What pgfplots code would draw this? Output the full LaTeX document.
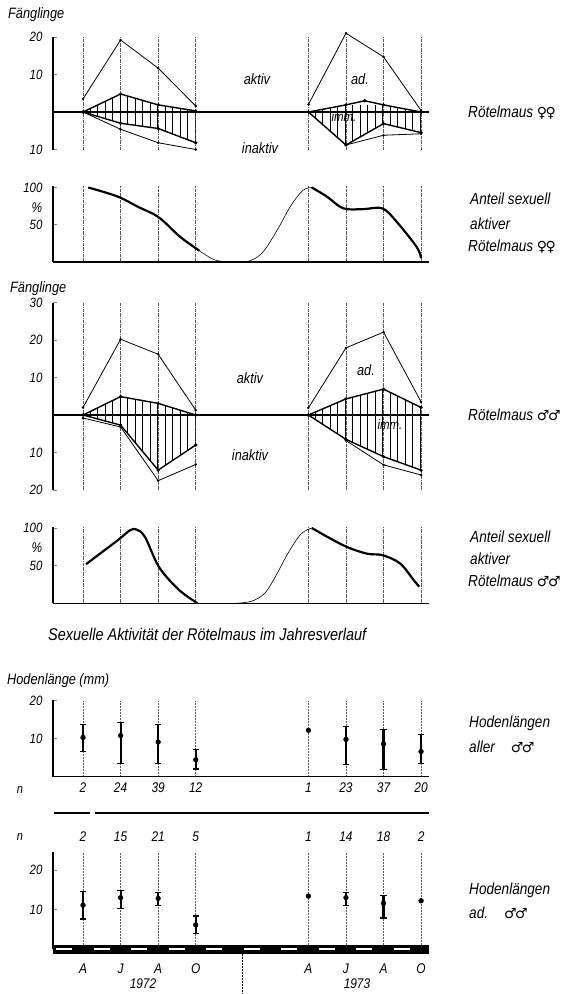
\documentclass[border=0pt]{standalone}
\usepackage{pgfplots}
\pgfplotsset{compat=1.18}
\usepackage{fontspec}
\setmainfont{Liberation Sans}[FakeStretch=0.85]
\newfontfamily\sym{DejaVu Sans}
\usetikzlibrary{patterns.meta}

% italic text at a given size (1pt = 1 pixel of the reference)
\newcommand{\fs}[1]{\fontsize{#1}{#1}\selectfont\itshape}
\newcommand{\fem}{{\sym\fontsize{14}{14}\selectfont ♀\kern-1.5pt♀}}
\newcommand{\mal}{{\sym\fontsize{14}{14}\selectfont ♂\kern-1.5pt♂}}

\pgfplotsset{
  panel/.style={
    scale only axis, width=375.6pt,
    xmin=2.4, xmax=22.4,
    xtick={4,6,8,10,16,18,20,22}, xticklabels={},
    xmajorgrids, major x grid style={densely dashdotted, black!65, line width=0.5pt},
    xtick style={draw=none},
    tick align=inside, major tick length=4pt,
    ytick style={line width=0.8pt},
    axis line style={line width=1.2pt},
    yticklabel style={font=\fs{13.5}, xshift=-7pt},
    xticklabel style={font=\fs{14}},
    anchor=south west, clip=false,
  },
  thinline/.style={black, line width=0.8pt, mark=*, mark size=0.8pt},
  hatchline/.style={black, line width=1.4pt, mark=*, mark size=0.8pt},
  hatch/.style={draw=none, pattern={Lines[angle=90,distance=7.5pt,line width=0.6pt]}},
  curve/.style={black, line width=2.2pt, smooth, tension=0.55},
  bridge/.style={black, line width=0.6pt, smooth, tension=0.55},
  hoden/.style={only marks, mark=*, mark size=2.4pt, black,
    error bars/.cd, y dir=both, y explicit,
    error bar style={line width=2.2pt},
    error mark options={rotate=90, mark size=3.2pt, line width=1.4pt}},
}
\tikzset{nrow/.style={font=\fs{14}, inner sep=0pt}}

\begin{document}
\begin{tikzpicture}
\useasboundingbox (0,0) rectangle (565pt,-994pt);

% ---------- Fänglinge, females ----------
\begin{axis}[panel, at={(53pt,-149.5pt)}, height=112.5pt, ymin=-10, ymax=20,
  axis y line*=left, axis x line*=middle, x axis line style={line width=1.8pt},
  ytick={-10,10,20}, yticklabels={10,10,20}]
\addplot[hatch] coordinates {(4,0)(6,4.8)(8,1.9)(10,0.3)(10,-8.2)(8,-4.4)(6,-3.0)(4,0)};
\addplot[hatch] coordinates {(16,0)(18,1.9)(20,1.9)(22,0)(22,-5.5)(20,-3.1)(18,-8.8)(16,0)};
\addplot[thinline] coordinates {(4,3.5)(6,19.2)(8,11.7)(10,1.6)};
\addplot[hatchline] coordinates {(4,0)(6,4.8)(8,1.9)(10,0.3)};
\addplot[hatchline] coordinates {(4,0)(6,-3.0)(8,-4.4)(10,-8.2)};
\addplot[thinline] coordinates {(4,0)(6,-4.6)(8,-8.2)(10,-10)};
\addplot[thinline] coordinates {(16,2)(18,21)(20,14.7)(22,0.4)};
\addplot[hatchline] coordinates {(16,0)(18,1.9)(19,3)(20,1.9)(22,0)};
\addplot[hatchline] coordinates {(16,0)(18,-8.8)(20,-3.1)(22,-5.5)};
\addplot[thinline] coordinates {(18,-8.8)(20,-6.2)(22,-5.8)};
\end{axis}

% ---------- share of sexually active females ----------
\begin{axis}[panel, at={(53pt,-262pt)}, height=76pt, ymin=0, ymax=102,
  axis lines*=left, ytick={50,100}, yticklabels={50,100}]
\addplot[curve] coordinates {(4.28,100)(5.83,88)(6.93,74)(8.03,60)(9.16,34)(10.2,15)};
\addplot[bridge] coordinates {(10.2,15)(10.9,4)(11.47,0.5)(12.1,0)(12.72,0.5)(13.3,7)(13.78,20)(14.5,50)(15.05,75)(15.7,96)(16.18,100)};
\addplot[curve] coordinates {(16.18,100)(16.97,88)(17.86,72)(18.93,71)(19.94,72)(20.7,54)(21.77,20)(22,5)};
\end{axis}

% ---------- Fänglinge, males ----------
\begin{axis}[panel, at={(53pt,-490pt)}, height=187.5pt, ymin=-20, ymax=30,
  axis y line*=left, axis x line*=middle, x axis line style={line width=1.8pt},
  ytick={-20,-10,10,20,30}, yticklabels={20,10,10,20,30}]
\addplot[hatch] coordinates {(4,0)(6,4.9)(8,3.1)(10,0)(10,-8)(8,-14.7)(6,-2.7)(4,0)};
\addplot[hatch] coordinates {(16,0)(18,4.3)(20,6.9)(22,2)(22,-14.7)(20,-11.1)(18,-6.5)(16,0)};
\addplot[thinline] coordinates {(4,2)(6,20.2)(8,16.2)(10,1.3)};
\addplot[hatchline] coordinates {(4,0)(6,4.9)(8,3.1)(10,0)};
\addplot[hatchline] coordinates {(4,0)(6,-2.7)(8,-14.7)(10,-8)};
\addplot[thinline] coordinates {(4,-0.8)(6,-3.2)(8,-17.5)(10,-13.2)};
\addplot[thinline] coordinates {(16,1.9)(18,17.9)(20,22.1)(22,3.5)};
\addplot[hatchline] coordinates {(16,0)(18,4.3)(20,6.9)(22,2)};
\addplot[hatchline] coordinates {(16,0)(18,-6.5)(20,-11.1)(22,-14.7)};
\addplot[thinline] coordinates {(18,-6.8)(20,-13.3)(22,-16)};
\end{axis}

% ---------- share of sexually active males ----------
\begin{axis}[panel, at={(53pt,-603.3pt)}, height=76.8pt, ymin=0, ymax=102,
  axis lines*=left, ytick={50,100}, yticklabels={50,100}]
\addplot[curve] coordinates {(4.16,52)(5.86,84)(6.5,97)(6.85,98)(7.3,88)(8.05,48)(9.1,18)(10.1,0)};
\addplot[bridge] coordinates {(10.1,0)(11,0)(12.1,0)(13,3)(13.7,14)(14.3,38)(14.9,66)(15.6,92)(16.18,100)};
\addplot[curve] coordinates {(16.18,100)(17.86,77)(19.1,66)(19.94,64)(20.88,53)(21.6,31)(21.9,22)};
\end{axis}

% ---------- testis length, all males ----------
\begin{axis}[panel, at={(53pt,-776.5pt)}, height=76.5pt, ymin=0, ymax=20.2,
  axis lines*=left, x axis line style={line width=1.8pt},
  major x grid style={densely dotted, black!65, line width=0.5pt},
  ytick={10,20}, yticklabels={10,20},
  xticklabels={2,24,39,12,1,23,37,20}, xticklabel style={yshift=-3pt}]
\addplot[hoden] coordinates {(4,10.3) += (0,3.4) -= (0,3.7) (6,10.8) += (0,3.4) -= (0,7.4)
  (8,9.1) += (0,4.6) -= (0,5.7) (10,4.4) += (0,2.7) -= (0,2.4)
  (18,9.8) += (0,3.4) -= (0,6.7) (20,8.6) += (0,3.8) -= (0,6.7) (22,6.6) += (0,4.5) -= (0,3.1)};
\addplot[only marks, mark=*, mark size=2.4pt, black] coordinates {(16,12.2)};
\end{axis}

% ---------- testis length, adult males ----------
\begin{axis}[panel, at={(53pt,-949pt)}, height=96.8pt, ymin=0, ymax=24.5,
  axis lines*=left,
  x axis line style={line width=9pt, postaction={draw=white, line width=2.8pt,
    dash pattern=on 16pt off 21.5pt, dash phase=34.5pt}},
  major x grid style={densely dotted, black!65, line width=0.5pt},
  ytick={10,20}, yticklabels={10,20},
  xticklabels={A,J,A,O,A,J,A,O}, xticklabel style={yshift=-11pt}]
\addplot[hoden] coordinates {(4,11.1) += (0,3.4) -= (0,3.5) (6,13) += (0,1.8) -= (0,2.7)
  (8,12.8) += (0,1.5) -= (0,1.8) (10,6.1) += (0,2.3) -= (0,2.1)
  (18,13) += (0,1.3) -= (0,2) (20,11.6) += (0,1.9) -= (0,3.8)};
\addplot[only marks, mark=*, mark size=2.4pt, black] coordinates {(16,13.4)(22,12.2)};
% separator and second row of sample sizes
\draw[line width=1.2pt] (axis cs:2.45,34.4) -- (axis cs:4.37,34.4);
\draw[line width=1.2pt] (axis cs:4.62,34.4) -- (axis cs:22.4,34.4);
\node[nrow] at (axis cs:4,28.4) {2};
\node[nrow] at (axis cs:6,28.4) {15};
\node[nrow] at (axis cs:8,28.4) {21};
\node[nrow] at (axis cs:10,28.4) {5};
\node[nrow] at (axis cs:16,28.4) {1};
\node[nrow] at (axis cs:18,28.4) {14};
\node[nrow] at (axis cs:20,28.4) {18};
\node[nrow] at (axis cs:22,28.4) {2};
\draw[densely dotted, line width=0.5pt] (axis cs:12.5,0) -- ++(0pt,-46pt);
\end{axis}

% ---------- texts ----------
\begin{scope}[every node/.style={inner sep=0pt}]
\node[anchor=west, font=\fs{15}] at (8pt,-15pt) {Fänglinge};
\node[anchor=west, font=\fs{15}] at (10pt,-289pt) {Fänglinge};
\node[anchor=west, font=\fs{15}] at (7pt,-681pt) {Hodenlänge (mm)};
\node[font=\fs{14}] at (37pt,-208pt) {\%};
\node[font=\fs{14}] at (37pt,-548pt) {\%};
\node[font=\fs{13}] at (20pt,-790pt) {n};
\node[font=\fs{13}] at (20pt,-837pt) {n};
\node[anchor=west, font=\fs{17}] at (48pt,-634pt) {Sexuelle Aktivität der Rötelmaus im Jahresverlauf};
\node[font=\fs{14}] at (143pt,-984pt) {1972};
\node[font=\fs{14}] at (357pt,-984pt) {1973};

\node[font=\fs{15}] at (257pt,-79pt) {aktiv};
\node[font=\fs{15}] at (260pt,-148pt) {inaktiv};
\node[font=\fs{15}] at (360pt,-79pt) {ad.};
\node[font=\fs{13.5}] at (344pt,-117pt) {imm.};
\node[font=\fs{15}] at (250pt,-378pt) {aktiv};
\node[font=\fs{15}] at (250pt,-455pt) {inaktiv};
\node[font=\fs{15}] at (366pt,-370pt) {ad.};
\node[font=\fs{13.5}] at (390pt,-425pt) {imm.};

\node[anchor=west, font=\fs{16}] at (468pt,-113pt) {Rötelmaus \fem};
\node[anchor=west, font=\fs{16}] at (470pt,-199pt) {Anteil sexuell};
\node[anchor=west, font=\fs{16}] at (470pt,-224pt) {aktiver};
\node[anchor=west, font=\fs{16}] at (468pt,-247pt) {Rötelmaus \fem};
\node[anchor=west, font=\fs{16}] at (468pt,-415pt) {Rötelmaus \mal};
\node[anchor=west, font=\fs{16}] at (470pt,-537pt) {Anteil sexuell};
\node[anchor=west, font=\fs{16}] at (470pt,-559pt) {aktiver};
\node[anchor=west, font=\fs{16}] at (468pt,-581pt) {Rötelmaus \mal};
\node[anchor=west, font=\fs{16}] at (469pt,-723pt) {Hodenlängen};
\node[anchor=west, font=\fs{16}] at (469pt,-747pt) {aller\quad\mal};
\node[anchor=west, font=\fs{16}] at (469pt,-890pt) {Hodenlängen};
\node[anchor=west, font=\fs{16}] at (469pt,-913pt) {ad.\quad\mal};
\end{scope}
\end{tikzpicture}
\end{document}
